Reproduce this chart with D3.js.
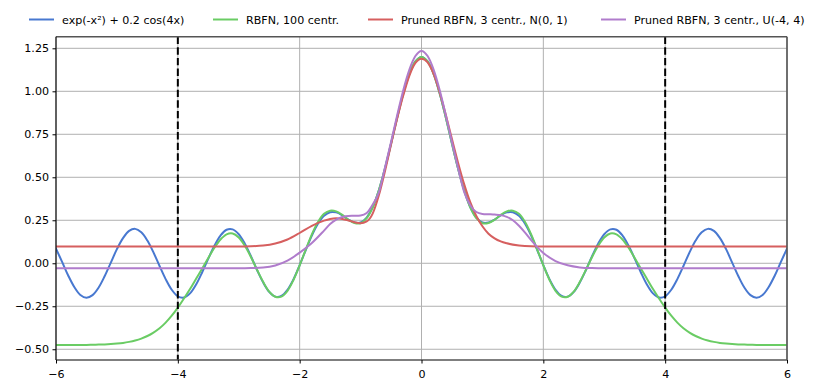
<!DOCTYPE html>
<html>
<head>
<meta charset="utf-8">
<script src="https://cdn.jsdelivr.net/npm/d3@7"></script>
<style>
  html, body { margin: 0; padding: 0; background: #fff; }
  svg { display: block; }
  text { font-family: "DejaVu Sans", sans-serif; }
</style>
</head>
<body>
<svg id="chart" width="830" height="392"></svg>
<script>
// ---------- data ----------
const seriesNames = ["exp(-x²) + 0.2 cos(4x)", "RBFN, 100 centr.", "Pruned RBFN, 3 centr., N(0, 1)", "Pruned RBFN, 3 centr., U(-4, 4)"];
const seriesColors = ["#4878d0", "#6acc64", "#d65f5f", "#b07ccc"];

// common x grid for the target function and the 100-centre RBFN (step 0.1 from -6 to 6)
const xGrid = d3.range(-60, 61).map(i => i / 10);

const yTarget = [
  0.085, 0.008, -0.071, -0.138, -0.184, -0.200, -0.185, -0.141, -0.074, 0.004,
  0.082, 0.146, 0.188, 0.200, 0.180, 0.132, 0.063, -0.016, -0.092, -0.154,
  -0.192, -0.199, -0.175, -0.123, -0.052, 0.027, 0.102, 0.161, 0.195, 0.197,
  0.169, 0.114, 0.041, -0.039, -0.111, -0.166, -0.194, -0.190, -0.154, -0.092,
  -0.011, 0.077, 0.161, 0.230, 0.276, 0.297, 0.296, 0.279, 0.254, 0.237,
  0.237, 0.266, 0.327, 0.425, 0.551, 0.696, 0.846, 0.986, 1.100, 1.174,
  1.200,
  1.174, 1.100, 0.986, 0.846, 0.696, 0.551, 0.425, 0.327, 0.266, 0.237,
  0.237, 0.254, 0.279, 0.296, 0.297, 0.276, 0.230, 0.161, 0.077, -0.011,
  -0.092, -0.154, -0.190, -0.194, -0.166, -0.111, -0.039, 0.041, 0.114, 0.169,
  0.197, 0.195, 0.161, 0.102, 0.027, -0.052, -0.123, -0.175, -0.199, -0.192,
  -0.154, -0.092, -0.016, 0.063, 0.132, 0.180, 0.200, 0.188, 0.146, 0.082,
  0.004, -0.074, -0.141, -0.185, -0.200, -0.184, -0.138, -0.071, 0.008, 0.085
];

const yRbfn100 = [
  -0.475, -0.475, -0.475, -0.475, -0.475, -0.475, -0.474, -0.473, -0.472, -0.470,
  -0.467, -0.463, -0.457, -0.449, -0.438, -0.423, -0.403, -0.378, -0.345, -0.305,
  -0.258, -0.205, -0.150, -0.090, -0.030, 0.030, 0.090, 0.138, 0.168, 0.173,
  0.150, 0.102, 0.036, -0.038, -0.108, -0.165, -0.195, -0.194, -0.160, -0.096,
  -0.012, 0.080, 0.168, 0.240, 0.288, 0.306, 0.302, 0.281, 0.253, 0.234,
  0.233, 0.262, 0.325, 0.425, 0.551, 0.696, 0.846, 0.986, 1.100, 1.174,
  1.200,
  1.174, 1.100, 0.986, 0.846, 0.696, 0.551, 0.425, 0.325, 0.262, 0.233,
  0.234, 0.253, 0.281, 0.302, 0.306, 0.288, 0.240, 0.168, 0.080, -0.012,
  -0.096, -0.160, -0.194, -0.195, -0.165, -0.108, -0.038, 0.036, 0.102, 0.150,
  0.173, 0.168, 0.138, 0.090, 0.030, -0.030, -0.090, -0.150, -0.205, -0.258,
  -0.305, -0.345, -0.378, -0.403, -0.423, -0.438, -0.449, -0.457, -0.463, -0.467,
  -0.470, -0.472, -0.473, -0.474, -0.475, -0.475, -0.475, -0.475, -0.475, -0.475
];

const xPrunedN = [-6, -3.0, -2.8, -2.6, -2.4, -2.2, -2.0, -1.8, -1.6, -1.5, -1.4, -1.3, -1.2, -1.1, -1.0, -0.9, -0.8, -0.7, -0.6, -0.5, -0.4, -0.3, -0.2, -0.1, 0, 0.1, 0.2, 0.3, 0.4, 0.5, 0.6, 0.7, 0.8, 0.9, 1.0, 1.1, 1.2, 1.3, 1.4, 1.6, 1.8, 2.0, 2.4, 3.0, 6];
const yPrunedN = [0.098, 0.098, 0.099, 0.103, 0.115, 0.138, 0.176, 0.218, 0.248, 0.258, 0.262, 0.258, 0.249, 0.239, 0.233, 0.243, 0.290, 0.395, 0.535, 0.690, 0.840, 0.975, 1.090, 1.165, 1.190, 1.168, 1.100, 0.992, 0.862, 0.722, 0.585, 0.460, 0.355, 0.275, 0.215, 0.172, 0.145, 0.127, 0.116, 0.104, 0.099, 0.098, 0.098, 0.098, 0.098];

const xPrunedU = [-6, -3.0, -2.8, -2.6, -2.4, -2.2, -2.0, -1.8, -1.6, -1.5, -1.4, -1.3, -1.2, -1.1, -1.0, -0.9, -0.8, -0.7, -0.6, -0.5, -0.4, -0.3, -0.2, -0.1, 0, 0.1, 0.2, 0.3, 0.4, 0.5, 0.6, 0.7, 0.8, 0.9, 1.0, 1.1, 1.2, 1.3, 1.4, 1.5, 1.6, 1.7, 1.8, 1.9, 2.0, 2.2, 2.4, 2.6, 2.8, 3.0, 6];
const yPrunedU = [-0.029, -0.029, -0.028, -0.025, -0.013, 0.015, 0.062, 0.118, 0.190, 0.228, 0.254, 0.269, 0.275, 0.276, 0.278, 0.292, 0.342, 0.412, 0.555, 0.705, 0.860, 1.005, 1.125, 1.205, 1.235, 1.205, 1.125, 1.005, 0.860, 0.705, 0.555, 0.415, 0.338, 0.298, 0.287, 0.285, 0.283, 0.280, 0.270, 0.250, 0.218, 0.178, 0.134, 0.094, 0.060, 0.013, -0.012, -0.024, -0.028, -0.029, -0.029];

const xTicks = [-6, -4, -2, 0, 2, 4, 6];
const yTicks = [-0.5, -0.25, 0, 0.25, 0.5, 0.75, 1.0, 1.25];
const vLines = [-4, 4];

// ---------- layout ----------
const svg = d3.select("#chart");
const W = 830, H = 392;
const plot = { left: 56, right: 787, top: 36.7, bottom: 360 };
const FONT = 11.1;

svg.append("rect").attr("width", W).attr("height", H).attr("fill", "#fff");

const x = d3.scaleLinear().domain([-6, 6]).range([plot.left, plot.right]);
const y = d3.scaleLinear().domain([-0.5625, 1.3175]).range([plot.bottom, plot.top]);

// grid
const grid = svg.append("g");
grid.selectAll("line.gx").data(xTicks).join("line")
  .attr("x1", d => x(d)).attr("x2", d => x(d))
  .attr("y1", plot.top).attr("y2", plot.bottom)
  .attr("stroke", "#b0b0b0").attr("stroke-width", 1);
grid.selectAll("line.gy").data(yTicks).join("line")
  .attr("x1", plot.left).attr("x2", plot.right)
  .attr("y1", d => y(d)).attr("y2", d => y(d))
  .attr("stroke", "#b0b0b0").attr("stroke-width", 1);

// curves
const series = [
  { xs: xGrid, ys: yTarget, curve: d3.curveCatmullRom.alpha(0.5) },
  { xs: xGrid, ys: yRbfn100, curve: d3.curveCatmullRom.alpha(0.5) },
  { xs: xPrunedN, ys: yPrunedN, curve: d3.curveMonotoneX },
  { xs: xPrunedU, ys: yPrunedU, curve: d3.curveMonotoneX }
];
const clip = svg.append("clipPath").attr("id", "clip").append("rect")
  .attr("x", plot.left).attr("y", plot.top)
  .attr("width", plot.right - plot.left).attr("height", plot.bottom - plot.top);
const lines = svg.append("g").attr("clip-path", "url(#clip)");
series.forEach((s, i) => {
  const pts = s.xs.map((xv, j) => [xv, s.ys[j]]);
  const gen = d3.line().x(d => x(d[0])).y(d => y(d[1])).curve(s.curve);
  lines.append("path").attr("d", gen(pts))
    .attr("fill", "none").attr("stroke", seriesColors[i])
    .attr("stroke-width", 2).attr("stroke-linejoin", "round").attr("stroke-linecap", "round");
});

// dashed vertical lines
svg.append("g").selectAll("line").data(vLines).join("line")
  .attr("x1", d => x(d)).attr("x2", d => x(d))
  .attr("y1", plot.top).attr("y2", plot.bottom)
  .attr("stroke", "#000").attr("stroke-width", 2)
  .attr("stroke-dasharray", "7.4,3.2");

// spines
const sp = svg.append("g").attr("fill", "none");
sp.append("line").attr("x1", plot.left).attr("x2", plot.right).attr("y1", plot.top).attr("y2", plot.top).attr("stroke", "#555").attr("stroke-width", 1.6);
sp.append("line").attr("x1", plot.left).attr("x2", plot.right).attr("y1", plot.bottom).attr("y2", plot.bottom).attr("stroke", "#555").attr("stroke-width", 1.6);
sp.append("line").attr("x1", plot.right).attr("x2", plot.right).attr("y1", plot.top).attr("y2", plot.bottom).attr("stroke", "#555").attr("stroke-width", 1.6);
sp.append("line").attr("x1", plot.left).attr("x2", plot.left).attr("y1", plot.top).attr("y2", plot.bottom).attr("stroke", "#111").attr("stroke-width", 1.2);

// axes
const xAxis = d3.axisBottom(x).tickValues(xTicks).tickFormat(d3.format("d")).tickSize(3.5).tickPadding(7);
const gx = svg.append("g").attr("transform", `translate(0,${plot.bottom})`).call(xAxis);
const yAxis = d3.axisLeft(y).tickValues(yTicks).tickFormat(d3.format(".2f")).tickSize(3.5).tickPadding(3.5);
const gy = svg.append("g").attr("transform", `translate(${plot.left},0)`).call(yAxis);
[gx, gy].forEach(g => {
  g.select(".domain").remove();
  g.selectAll(".tick line").attr("stroke", "#000").attr("stroke-width", 1);
  g.selectAll(".tick text").attr("fill", "#000")
    .style("font-family", "'DejaVu Sans', sans-serif").style("font-size", FONT + "px");
});

// legend
const legendX = [29, 213, 368, 601];
const leg = svg.append("g");
seriesNames.forEach((name, i) => {
  leg.append("line").attr("x1", legendX[i]).attr("x2", legendX[i] + 25)
    .attr("y1", 19.5).attr("y2", 19.5)
    .attr("stroke", seriesColors[i]).attr("stroke-width", 2);
  leg.append("text").attr("x", legendX[i] + 33).attr("y", 23.5)
    .attr("fill", "#000").style("font-size", FONT + "px").text(name);
});
</script>
</body>
</html>
